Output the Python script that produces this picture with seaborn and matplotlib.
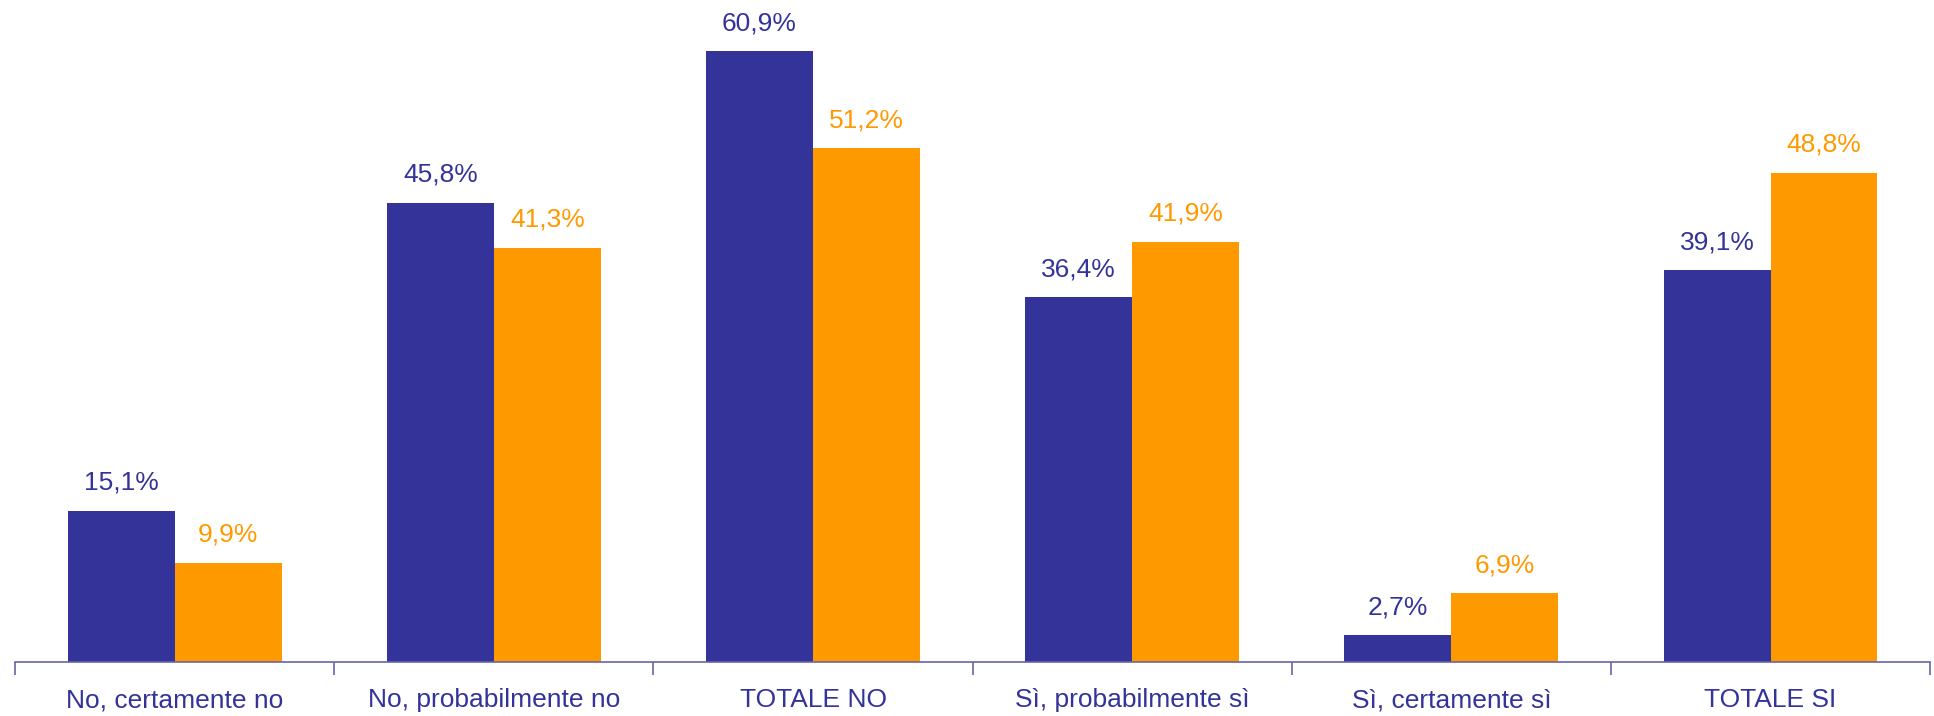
import pandas as pd
import numpy as np
import matplotlib.pyplot as plt
import seaborn as sns
from matplotlib.ticker import FixedLocator

# dati
categorie = ['No, certamente no', 'No, probabilmente no', 'TOTALE NO',
             'Sì, probabilmente sì', 'Sì, certamente sì', 'TOTALE SI']
serie_a = [15.1, 45.8, 60.9, 36.4, 2.7, 39.1]
serie_b = [9.9, 41.3, 51.2, 41.9, 6.9, 48.8]
serie_nomi = ['A', 'B']

blu = '#333399'
arancio = '#FF9900'

df = pd.DataFrame({
    'categoria': categorie * 2,
    'serie': [serie_nomi[0]] * len(categorie) + [serie_nomi[1]] * len(categorie),
    'valore': serie_a + serie_b,
})

sns.set_style('white')
plt.rcParams['font.family'] = ['Liberation Sans', 'DejaVu Sans']

fig = plt.figure(figsize=(19.34, 7.16), dpi=100)
ax = fig.add_axes([0.0078, 0.0754, 0.9902, 0.9246])

sns.barplot(data=df, x='categoria', y='valore', hue='serie', order=categorie,
            hue_order=serie_nomi, palette=[blu, arancio], width=0.67,
            gap=0, saturation=1, legend=False, linewidth=0, ax=ax)

# etichette dei valori
for cont, col in zip(ax.containers, [blu, arancio]):
    for bar in cont:
        h = bar.get_height()
        ax.annotate(f'{h:.1f}%'.replace('.', ','),
                    (bar.get_x() + bar.get_width() / 2, h),
                    xytext=(0, 20), textcoords='offset points',
                    ha='center', va='center', fontsize=19, color=col)

ax.set_ylim(0, 66)
ax.set_xlim(-0.5, len(categorie) - 0.5)
ax.set_yticks([])
ax.set_xlabel('')
ax.set_ylabel('')

for s in ['top', 'right', 'left']:
    ax.spines[s].set_visible(False)
ax.spines['bottom'].set_color('#6666aa')
ax.spines['bottom'].set_linewidth(1.2)

ax.tick_params(axis='x', which='major', length=0, pad=19,
               labelsize=19, labelcolor=blu)
ax.xaxis.set_minor_locator(FixedLocator(np.arange(-0.5, len(categorie), 1.0)))
ax.tick_params(axis='x', which='minor', bottom=True, length=9, width=1.2,
               color='#6666aa', direction='out')

plt.savefig('out.png', dpi=100)
